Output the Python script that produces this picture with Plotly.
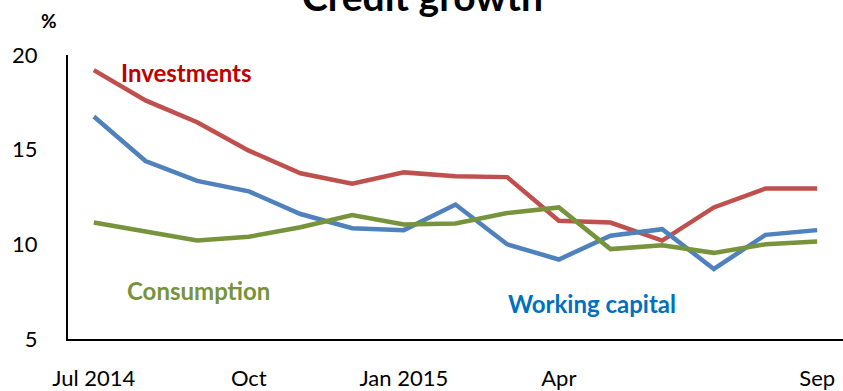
import plotly.graph_objects as go

months = ["Jul 2014", "Aug 2014", "Sep 2014", "Oct 2014", "Nov 2014", "Dec 2014",
          "Jan 2015", "Feb 2015", "Mar 2015", "Apr 2015", "May 2015", "Jun 2015",
          "Jul 2015", "Aug 2015", "Sep 2015"]
investments = [19.2, 17.6, 16.45, 14.95, 13.75, 13.2, 13.8, 13.6, 13.55, 11.25, 11.15, 10.2, 11.95, 12.95, 12.95]
working_capital = [16.75, 14.4, 13.35, 12.8, 11.6, 10.85, 10.75, 12.1, 10.0, 9.2, 10.45, 10.8, 8.7, 10.5, 10.75]
consumption = [11.15, 10.65, 10.2, 10.4, 10.9, 11.55, 11.05, 11.1, 11.65, 11.95, 9.75, 9.95, 9.55, 10.0, 10.15]

tick_months = ["Jul 2014", "Oct 2014", "Jan 2015", "Apr 2015", "Sep 2015"]
tick_text = ["Jul 2014", "Oct", "Jan 2015", "Apr", "Sep"]

FONT = "Lato"

fig = go.Figure()
fig.add_trace(go.Scatter(x=months, y=investments, mode="lines", name="Investments",
                         line=dict(color="#C0504D", width=4.5)))
fig.add_trace(go.Scatter(x=months, y=working_capital, mode="lines", name="Working capital",
                         line=dict(color="#4F81BD", width=4.5)))
fig.add_trace(go.Scatter(x=months, y=consumption, mode="lines", name="Consumption",
                         line=dict(color="#77933C", width=4.5)))

fig.update_layout(
    width=843, height=391,
    margin=dict(l=68, r=0, t=55, b=48),
    paper_bgcolor="white", plot_bgcolor="white",
    showlegend=False,
    font=dict(family=FONT, size=22, color="black"),
    xaxis=dict(type="category", categoryorder="array", categoryarray=months,
               range=[-0.5, 14.5], tickmode="array", tickvals=tick_months, ticktext=tick_text,
               showline=True, linecolor="black", linewidth=2, showgrid=False, zeroline=False,
               ticks="", ticklabelstandoff=19, tickfont=dict(family=FONT, size=22)),
    yaxis=dict(range=[5, 20], tickvals=[5, 10, 15, 20], showline=True, linecolor="black",
               linewidth=2, showgrid=False, zeroline=False, ticks="", ticklabelstandoff=24,
               tickfont=dict(family=FONT, size=22)),
)

fig.add_annotation(text="<b>Credit growth</b>", xref="paper", yref="paper",
                   x=0.457, y=1.207, xanchor="center", yanchor="middle", showarrow=False,
                   font=dict(family=FONT, size=39, color="black"))
fig.add_annotation(text="<b>%</b>", xref="paper", yref="paper", x=-0.024, y=1.12,
                   xanchor="center", yanchor="middle", showarrow=False,
                   font=dict(family=FONT, size=19, color="black"))
fig.add_annotation(text="<b>Investments</b>", x=0.48, y=19.1, xanchor="left", yanchor="middle",
                   showarrow=False, font=dict(family=FONT, size=24, color="#C00000"))
fig.add_annotation(text="<b>Consumption</b>", x=0.61, y=7.55, xanchor="left", yanchor="middle",
                   showarrow=False, font=dict(family=FONT, size=24, color="#77933C"))
fig.add_annotation(text="<b>Working capital</b>", x=7.98, y=6.9, xanchor="left", yanchor="middle",
                   showarrow=False, font=dict(family=FONT, size=24, color="#0070C0"))

fig.write_html("out.html")
